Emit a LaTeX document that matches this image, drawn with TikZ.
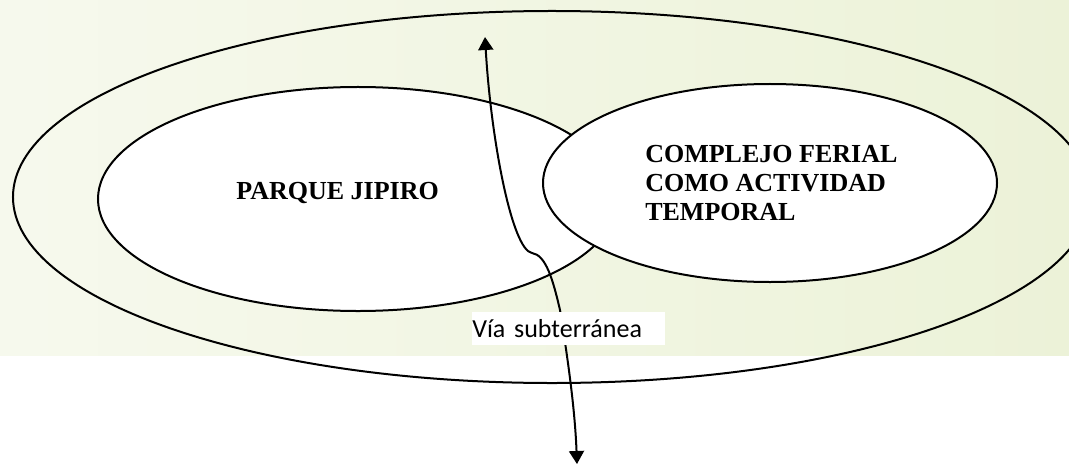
\documentclass[tikz,border=0pt]{standalone}
\usepackage{fontspec}
\setmainfont{Liberation Serif}
\newfontfamily\calibrifont{Carlito}
\usetikzlibrary{shapes.geometric,arrows.meta}
\definecolor{fotoverde}{RGB}{236,242,216}
\begin{document}
\begin{tikzpicture}[x=0.25mm,y=-0.25mm,
  >={Triangle[width=3.75mm,length=3.25mm]},
  area/.style={draw,ellipse,line width=0.5mm,inner sep=0pt},
  titulo/.style={font=\fontsize{18.5}{20.6}\selectfont\bfseries,inner sep=0pt}]
\useasboundingbox (0,0) rectangle (1069,465);
\shade [left color=fotoverde!45, middle color=white, right color=fotoverde] (0,0) rectangle (1069,355);
% zonas
\node [area,minimum width=269.5mm,minimum height=93mm] (ciudad) at (552,197) {};
\node [area,fill=white,minimum width=130mm,minimum height=56mm] (parque) at (358,199) {};
\node [area,fill=white,minimum width=113.5mm,minimum height=49.5mm] (feria) at (770,183) {};
\node [titulo,anchor=base west] (parque texto) at (236,199) {PARQUE JIPIRO};
\node [titulo,anchor=base west,align=left] (feria texto) at (645,220) {COMPLEJO FERIAL\\COMO ACTIVIDAD\\TEMPORAL};
% via
\coordinate (via norte) at (485,37);
\coordinate (quiebre) at (532,253);
\coordinate (via sur) at (577,464);
\draw [<->,line width=0.5mm] (via norte) .. controls (491,140) and (512,250) .. (quiebre) .. controls (546,255) and (553,280) .. (560,310) .. controls (568,360) and (575,410) .. (via sur);
\node [fill=white,anchor=west,inner xsep=0pt,inner ysep=0pt,text width=48.25mm,minimum height=8.25mm,align=left,font=\calibrifont\fontsize{18.5}{22}\selectfont] (via texto) at (472,328.5) {Vía subterránea};
\end{tikzpicture}
\end{document}
